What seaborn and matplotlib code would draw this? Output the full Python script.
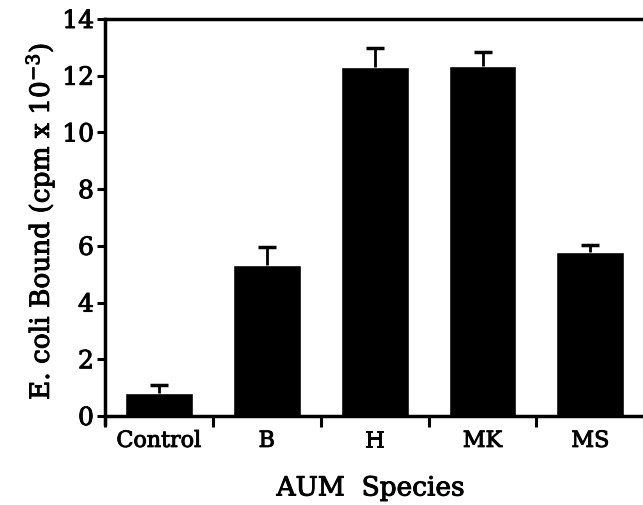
import matplotlib
matplotlib.use("Agg")
import matplotlib.pyplot as plt
import matplotlib.patheffects as pe
import numpy as np
import pandas as pd
import seaborn as sns

species = ["Control", "B", "H", "MK", "MS"]
bound = [0.81, 5.32, 12.32, 12.35, 5.77]
sem = [0.28, 0.64, 0.64, 0.47, 0.27]

sns.set_style("ticks")
plt.rcParams["font.family"] = ["DejaVu Serif"]
plt.rcParams["text.color"] = "black"
plt.rcParams["axes.labelcolor"] = "black"
plt.rcParams["xtick.color"] = "black"
plt.rcParams["ytick.color"] = "black"
plt.rcParams["axes.edgecolor"] = "black"
plt.rcParams["mathtext.fontset"] = "dejavuserif"

# slightly heavier strokes, like the scanned print
heavy = [pe.withStroke(linewidth=0.7, foreground="black")]

df = pd.DataFrame({"species": species, "bound": bound})

fig = plt.figure(figsize=(6.43, 5.06), dpi=100)
ax = fig.add_axes([105 / 643, 1 - 425 / 506, 1 - 105 / 643 + 0.002, (425 - 20) / 506])

sns.barplot(data=df, x="species", y="bound", color="black", saturation=1,
            width=0.63, errorbar=None, ax=ax)
pos = np.arange(len(species))
eb = ax.errorbar(pos, bound, yerr=[np.zeros(len(sem)), sem], fmt="none",
                 ecolor="black", elinewidth=2, capsize=6.5, capthick=2.5)
# only the upper cap is shown
eb[1][0].set_visible(False)

ax.set_xlim(-0.5, len(species) - 0.5)
ax.set_ylim(-14 * 8 / 397, 14)
ax.set_yticks(np.arange(0, 15, 2))
ax.spines["bottom"].set_position(("data", 0))
ax.spines["right"].set_visible(False)
for s in ["left", "bottom", "top"]:
    ax.spines[s].set_linewidth(2.5)
ax.spines["left"].set_bounds(ax.get_ylim()[0], 14)

# tick marks between categories, labels centred under bars
ax.set_xticks(np.arange(-0.5, len(species), 1.0))
ax.set_xticklabels([])
ax.set_xticks(pos, minor=True)
ax.set_xticklabels(species, minor=True, fontsize=16)
ax.tick_params(axis="x", which="major", direction="out", length=8, width=2.2)
ax.tick_params(axis="x", which="minor", length=0, pad=10)
ax.tick_params(axis="y", direction="out", length=6, width=2.2, labelsize=18, pad=2)

ax.set_xlabel("AUM  Species", fontsize=19)
ax.set_ylabel(r"E. coli Bound (cpm x 10$^{-3}$)", fontsize=19, labelpad=4)
ax.xaxis.label.set_va("center")
ax.xaxis.set_label_coords((370 - 105) / 538, (425 - 489) / 405)

for t in ax.get_xticklabels(minor=True) + ax.get_yticklabels() + [ax.xaxis.label, ax.yaxis.label]:
    t.set_path_effects(heavy)

plt.savefig("out.png", dpi=100, facecolor="w")
plt.close()
